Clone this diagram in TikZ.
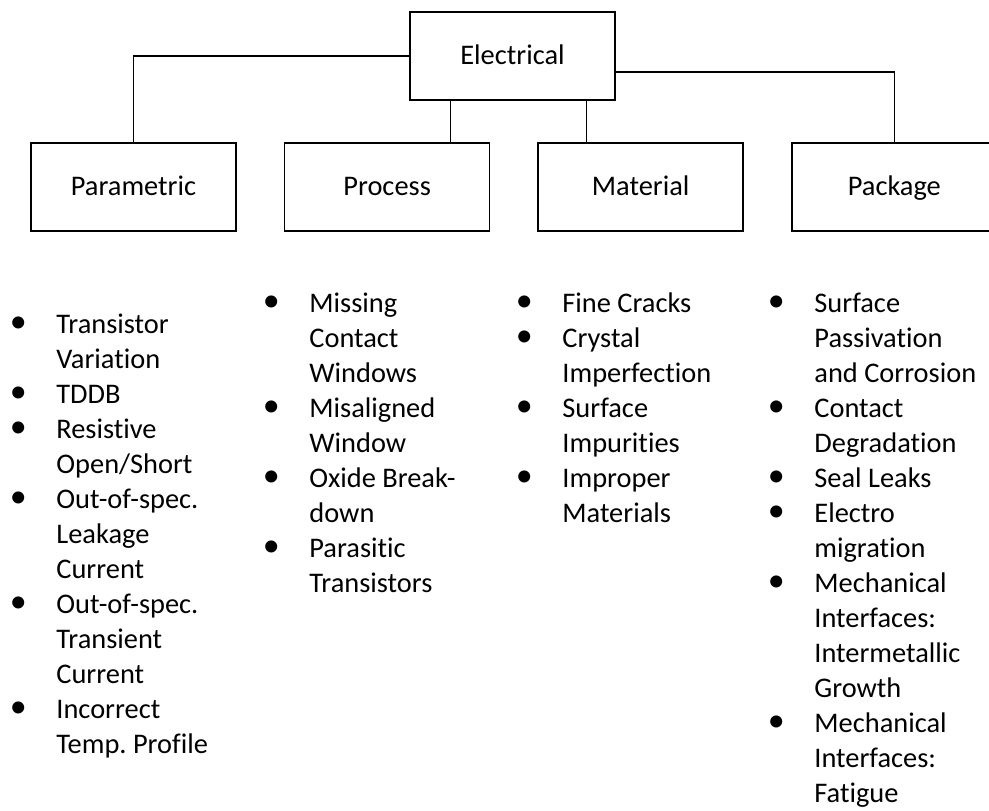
\documentclass[tikz,border=0pt]{standalone}
\usepackage{fontspec}
\setmainfont{Carlito}[Ligatures=NoCommon]
\usetikzlibrary{positioning}
\frenchspacing
\newcommand{\blt}{\llap{\makebox[38pt][c]{\fontsize{17pt}{17pt}\selectfont\raisebox{0.5pt}{•}}}}
\newcommand{\faillist}[1]{\begin{tabular}[t]{@{}l@{}}#1\end{tabular}}
\tikzset{
  box/.style={draw=black, line width=0.8pt, rectangle, minimum width=102.5pt, minimum height=44pt, inner sep=0pt, text height=11pt, text depth=3pt, align=center, font=\fontsize{14.2pt}{17.5pt}\selectfont},
  link/.style={line width=0.8pt, draw=black},
  bullets/.style={inner sep=0pt, anchor=base west, font=\fontsize{14.2pt}{17.5pt}\selectfont}
}

\begin{document}
\begin{tikzpicture}[x=0.5pt, y=-0.5pt, node distance=23.5pt]
  \useasboundingbox (0,0) rectangle (989,810);
  \node[box] (elec) at (512.5,56) {Electrical};
  \node[box] (param) at (133.5,187) {Parametric};
  \node[box, right=of param] (proc) {Process};
  \node[box, right=of proc] (mat) {Material};
  \node[box, right=of mat] (pack) {Package};
  \draw[link] (elec.west) -| (param.north);
  \draw[link] ([xshift=-31pt]elec.south) -- ([xshift=-31pt]elec.south |- proc.north);
  \draw[link] ([xshift=37pt]elec.south) -- ([xshift=37pt]elec.south |- mat.north);
  \draw[link] ([yshift=-8pt]elec.east) -| (pack.north);
  % failure modes under each box
  \node[bullets] (paramlist) at (56,333) {\faillist{\blt Transistor\\Variation\\\blt TDDB\\\blt Resistive\\Open/Short\\\blt Out-of-spec.\\Leakage\\Current\\\blt Out-of-spec.\\Transient\\Current\\\blt Incorrect\\Temp. Profile}};
  \node[bullets] (proclist) at (309,312) {\faillist{\blt Missing\\Contact\\Windows\\\blt Misaligned\\Window\\\blt Oxide Break-\\down\\\blt Parasitic\\Transistors}};
  \node[bullets] (matlist) at (562,312) {\faillist{\blt Fine Cracks\\\blt Crystal\\Imperfection\\\blt Surface\\Impurities\\\blt Improper\\Materials}};
  \node[bullets] (packlist) at (814,312) {\faillist{\blt Surface\\Passivation\\and Corrosion\\\blt Contact\\Degradation\\\blt Seal Leaks\\\blt Electro\\migration\\\blt Mechanical\\Interfaces:\\Intermetallic\\Growth\\\blt Mechanical\\Interfaces:\\Fatigue}};
\end{tikzpicture}
\end{document}
